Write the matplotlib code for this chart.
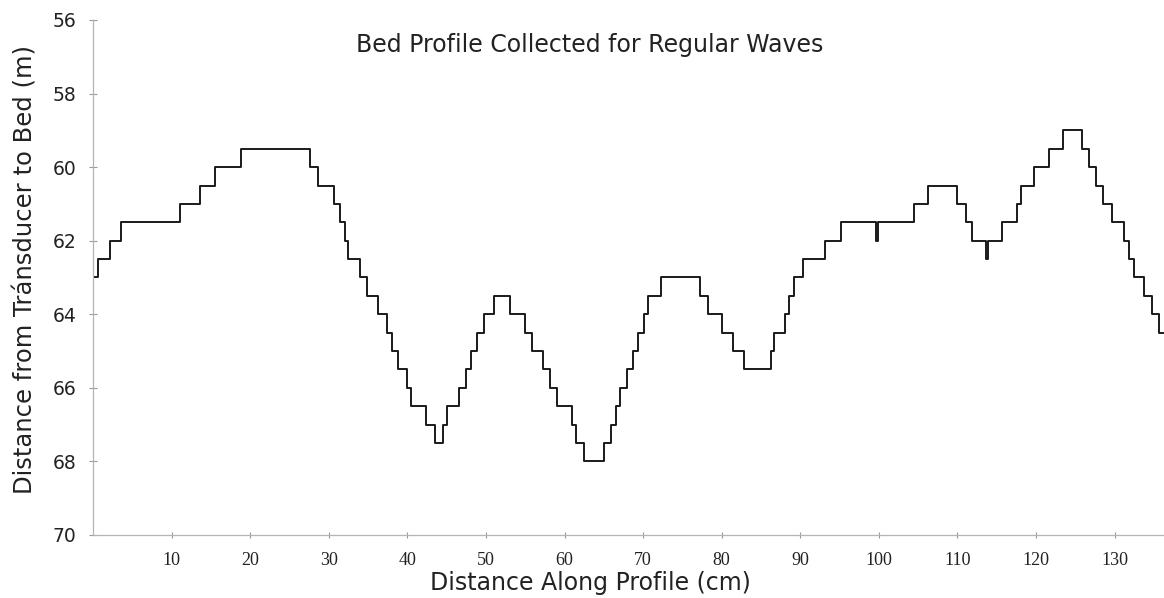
import matplotlib
matplotlib.use("Agg")
import matplotlib.pyplot as plt

# step edges along the profile (cm) and the depth held from each edge (m)
distance = [0, 0.6, 2.2, 3.5, 11.1, 13.6, 15.5, 18.8, 27.6, 28.6,
            30.6, 31.4, 32.0, 32.5, 34.0, 34.8, 36.3, 37.4, 38.0, 38.8,
            39.9, 40.5, 42.4, 43.5, 44.5, 45.0, 46.6, 47.4, 48.1, 48.8,
            49.7, 51.0, 53.1, 55.0, 55.9, 57.2, 58.1, 59.0, 61.0, 61.5,
            62.5, 65.0, 65.9, 66.5, 67.0, 68.0, 68.7, 69.3, 70.1, 70.6,
            72.3, 77.2, 78.2, 80.1, 81.4, 82.8, 86.3, 86.7, 88.0, 88.6,
            89.2, 90.3, 93.2, 95.2, 99.7, 99.9, 104.5, 106.3, 109.9, 111.1,
            111.8, 113.7, 113.9, 115.7, 117.6, 118.1, 119.8, 121.7, 123.4, 125.8,
            126.8, 127.6, 128.5, 129.7, 131.2, 131.8, 132.5, 133.8, 134.8, 135.7, 136.2]
depth = [63.0, 62.5, 62.0, 61.5, 61.0, 60.5, 60.0, 59.5, 60.0, 60.5,
         61.0, 61.5, 62.0, 62.5, 63.0, 63.5, 64.0, 64.5, 65.0, 65.5,
         66.0, 66.5, 67.0, 67.5, 67.0, 66.5, 66.0, 65.5, 65.0, 64.5,
         64.0, 63.5, 64.0, 64.5, 65.0, 65.5, 66.0, 66.5, 67.0, 67.5,
         68.0, 67.5, 67.0, 66.5, 66.0, 65.5, 65.0, 64.5, 64.0, 63.5,
         63.0, 63.5, 64.0, 64.5, 65.0, 65.5, 65.0, 64.5, 64.0, 63.5,
         63.0, 62.5, 62.0, 61.5, 62.0, 61.5, 61.0, 60.5, 61.0, 61.5,
         62.0, 62.5, 62.0, 61.5, 61.0, 60.5, 60.0, 59.5, 59.0, 59.5,
         60.0, 60.5, 61.0, 61.5, 62.0, 62.5, 63.0, 63.5, 64.0, 64.5, 64.5]

x_ticks = [10, 20, 30, 40, 50, 60, 70, 80, 90, 100, 110, 120, 130]
y_ticks = [56, 58, 60, 62, 64, 66, 68, 70]

sans = "DejaVu Sans"
serif = "Liberation Serif"

fig = plt.figure(figsize=(11.64, 5.98), dpi=100)
ax = fig.add_axes([0.080, 0.1054, 0.920, 0.8612])

ax.step(distance, depth, where="post", color="#1a1a1a", lw=1.4)

ax.set_xlim(0, 136.3)
ax.set_ylim(70, 56)

for side in ["top", "right"]:
    ax.spines[side].set_visible(False)
for side in ["left", "bottom"]:
    ax.spines[side].set_color("#b5b5b5")
    ax.spines[side].set_linewidth(0.9)

ax.set_xticks(x_ticks)
ax.set_xticklabels([str(t) for t in x_ticks], fontfamily=serif, fontsize=13, color="#222")
ax.set_yticks(y_ticks)
ax.set_yticklabels([str(t) for t in y_ticks], fontfamily=sans, fontsize=13.5, color="#222")
ax.tick_params(axis="x", direction="inout", length=4, width=0.8, color="#999", pad=10)
ax.tick_params(axis="y", direction="inout", length=6, width=0.8, color="#999", pad=9)

ax.text(0.464, 0.951, "Bed Profile Collected for Regular Waves", transform=ax.transAxes,
        ha="center", va="center", fontfamily=sans, fontsize=17, color="#222")

ax.set_xlabel("Distance Along Profile (cm)", fontfamily=sans, fontsize=17, color="#222",
              va="baseline")
ax.xaxis.set_label_coords(0.464, -0.106)
ax.set_ylabel("Distance from Tránsducer to Bed (m)", fontfamily=sans, fontsize=17.5,
              color="#222")
ax.yaxis.set_label_coords(-0.052, 0.515)

fig.savefig("out.png", dpi=100)
